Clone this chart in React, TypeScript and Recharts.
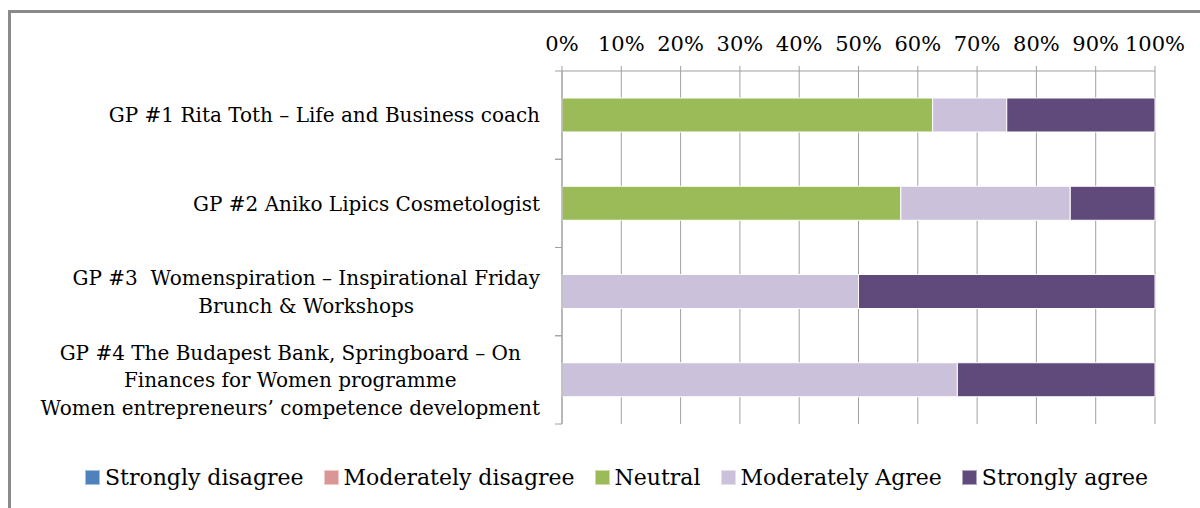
import React from 'react';
import { BarChart, Bar, XAxis, YAxis, CartesianGrid, Legend } from 'recharts';

const categories = [
  'GP #1 Rita Toth – Life and Business coach',
  'GP #2 Aniko Lipics Cosmetologist',
  'GP #3  Womenspiration – Inspirational Friday\nBrunch & Workshops',
  'GP #4 The Budapest Bank, Springboard – On\nFinances for Women programme\nWomen entrepreneurs’ competence development',
];

const stronglyDisagree = [0, 0, 0, 0];
const moderatelyDisagree = [0, 0, 0, 0];
const neutral = [62.5, 57.14, 0, 0];
const moderatelyAgree = [12.5, 28.57, 50, 66.67];
const stronglyAgree = [25, 14.29, 50, 33.33];

const xTicks = [0, 10, 20, 30, 40, 50, 60, 70, 80, 90, 100];

const seriesNames = ['Strongly disagree', 'Moderately disagree', 'Neutral', 'Moderately Agree', 'Strongly agree'];
const seriesKeys = ['sd', 'md', 'ne', 'ma', 'sa'];
const seriesColors = ['#4F81BD', '#D99694', '#9BBB59', '#CCC1DA', '#604A7B'];
const seriesValues = [stronglyDisagree, moderatelyDisagree, neutral, moderatelyAgree, stronglyAgree];

const data = categories.map((name, i) => {
  const row: any = { name };
  seriesKeys.forEach((k, j) => {
    row[k] = seriesValues[j][i];
  });
  return row;
});

const FONT = '"DejaVu Serif", serif';
const FONT_SIZE = 21;
const CAT_FONT_SIZE = 20;
const LEGEND_FONT_SIZE = 22;
const AXIS_COLOR = '#a0a0a0';
const PLOT_TOP = 71;
const PLOT_BOTTOM = 424;
const BAND = (PLOT_BOTTOM - PLOT_TOP) / categories.length;

let ctx: CanvasRenderingContext2D | null = null;
const measure = (s: string) => {
  if (!ctx) {
    const c = document.createElement('canvas');
    ctx = c.getContext('2d');
  }
  if (!ctx) return s.length * CAT_FONT_SIZE * 0.5;
  ctx.font = `${CAT_FONT_SIZE}px "DejaVu Serif"`;
  return ctx.measureText(s).width;
};

const YTick = (props: any) => {
  const { x, y, payload } = props;
  const lines = String(payload.value).split('\n');
  const w = Math.max(...lines.map((l) => measure(l)));
  const cx = x - w / 2;
  const lh = 27.5;
  const startY = y - ((lines.length - 1) * lh) / 2;
  return (
    <g>
      <line x1={x + 15} x2={x + 22} y1={y - BAND / 2} y2={y - BAND / 2} stroke={AXIS_COLOR} strokeWidth={1} />
      <line x1={x + 15} x2={x + 22} y1={y + BAND / 2} y2={y + BAND / 2} stroke={AXIS_COLOR} strokeWidth={1} />
      {lines.map((l, i) => (
        <text
          key={i}
          x={cx}
          y={startY + i * lh}
          dy="0.36em"
          textAnchor="middle"
          fill="#000"
          style={{ fontFamily: FONT, fontSize: CAT_FONT_SIZE, whiteSpace: 'pre' }}
        >
          {l}
        </text>
      ))}
    </g>
  );
};

const renderLegend = (props: any) => {
  const payload = [...(props.payload || [])].sort(
    (a: any, b: any) => seriesNames.indexOf(a.value) - seriesNames.indexOf(b.value)
  );
  return (
    <div
      style={{
        display: 'flex',
        justifyContent: 'center',
        alignItems: 'center',
        height: 30,
        fontFamily: FONT,
        fontSize: LEGEND_FONT_SIZE,
        color: '#000',
      }}
    >
      {payload.map((p: any, i: number) => (
        <div key={i} style={{ display: 'flex', alignItems: 'center', marginLeft: i === 0 ? 0 : 20 }}>
          <span
            style={{
              display: 'inline-block',
              width: 13,
              height: 13,
              background: p.color,
              border: '1px solid rgba(255,255,255,0.5)',
              marginRight: 5,
            }}
          />
          <span style={{ whiteSpace: 'nowrap' }}>{p.value}</span>
        </div>
      ))}
    </div>
  );
};

export default function App() {
  return (
    <div
      style={{
        position: 'absolute',
        left: 0,
        top: 0,
        width: 1200,
        height: 508,
        overflow: 'hidden',
        background: '#fff',
        fontFamily: FONT,
      }}
    >
      <div
        style={{
          position: 'absolute',
          left: 8,
          top: 10,
          width: 1300,
          height: 700,
          border: '3px solid #8a8a8a',
          boxSizing: 'border-box',
        }}
      />
      <div style={{ position: 'absolute', left: 0, top: 0 }}>
        <BarChart
          width={1200}
          height={508}
          data={data}
          layout="vertical"
          margin={{ top: 0, right: 45, bottom: 84, left: 0 }}
          barSize={34}
        >
          <CartesianGrid horizontal={false} vertical stroke={AXIS_COLOR} strokeWidth={1} />
          <XAxis
            type="number"
            orientation="top"
            domain={[0, 100]}
            ticks={xTicks}
            tickFormatter={(v: number) => `${v}%`}
            height={PLOT_TOP}
            tickSize={5}
            tickMargin={15}
            stroke={AXIS_COLOR}
            tick={{ fill: '#000', fontSize: FONT_SIZE, fontFamily: FONT }}
            interval={0}
          />
          <YAxis
            type="category"
            dataKey="name"
            width={562}
            tickLine={false}
            tickSize={0}
            tickMargin={22}
            stroke={AXIS_COLOR}
            tick={<YTick />}
            interval={0}
          />
          {seriesKeys.map((k, j) => (
            <Bar
              key={k}
              dataKey={k}
              name={seriesNames[j]}
              stackId="a"
              fill={seriesColors[j]}
              stroke="#ffffff"
              strokeWidth={1}
              isAnimationActive={false}
            />
          ))}
          <Legend
            layout="horizontal"
            verticalAlign="middle"
            align="center"
            content={renderLegend}
            wrapperStyle={{ position: 'absolute', left: 0, top: 462, width: 1233, bottom: 'auto' }}
          />
        </BarChart>
      </div>
    </div>
  );
}
